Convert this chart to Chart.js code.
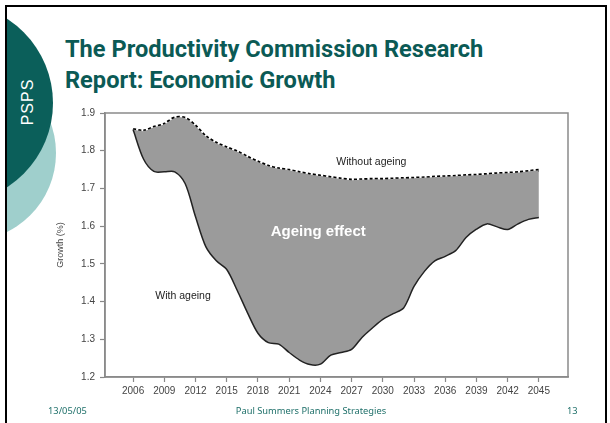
<!DOCTYPE html>
<html>
<head>
<meta charset="utf-8">
<script src="https://cdn.jsdelivr.net/npm/chart.js@4"></script>
<style>
body{margin:0;width:610px;height:423px;overflow:hidden;background:#fff;position:relative;font-family:"Liberation Sans",Arial,sans-serif}
#deco{position:absolute;left:7px;top:7px;width:120px;height:420px;overflow:hidden}
.circ{position:absolute;border-radius:50%}
#light{left:-127px;top:58px;width:176px;height:176px;background:#9fcfcc}
#dark{left:-154px;top:-4px;width:200px;height:200px;background:#0b5f5a}
#psps{position:absolute;left:28px;top:102px;transform:translate(-50%,-50%) rotate(-90deg);color:#fff;font-size:16px;letter-spacing:1px}
#frame{position:absolute;left:5px;top:5px;width:598px;height:440px;border:2.5px solid #000;border-bottom:none}
#title{position:absolute;left:65px;top:34px;color:#0b5a55;font-family:Roboto,"Liberation Sans",sans-serif;font-weight:700;font-size:23.6px;line-height:31px;white-space:nowrap}
#box{position:absolute;left:0;top:100px;width:610px;height:323px}
.foot{position:absolute;top:404px;color:#1f706a;font-family:"Noto Sans",sans-serif;font-size:9.3px}
</style>
</head>
<body>
<div id="deco">
  <div class="circ" id="light"></div>
  <div class="circ" id="dark"></div>
</div>
<div id="psps">PSPS</div>
<div id="frame"></div>
<div id="title">The Productivity Commission Research<br>Report: Economic Growth</div>
<div id="box"><canvas id="growthChart"></canvas></div>
<div class="foot" style="left:48px">13/05/05</div>
<div class="foot" style="left:0;width:622px;text-align:center">Paul Summers Planning Strategies</div>
<div class="foot" style="left:567px">13</div>
<script>
const years = [2006,2007,2008,2009,2010,2011,2012,2013,2014,2015,2016,2017,2018,2019,2020,2021,2022,2023,2024,2025,
2026,2027,2028,2029,2030,2031,2032,2033,2034,2035,2036,2037,2038,2039,2040,2041,2042,2043,2044,2045];

const withoutAgeing = [1.856,1.852,1.862,1.870,1.887,1.886,1.865,1.837,1.820,1.808,1.797,1.783,1.770,1.759,1.752,1.748,1.742,1.737,1.733,1.729,
1.725,1.722,1.723,1.724,1.724,1.725,1.726,1.727,1.728,1.730,1.731,1.732,1.734,1.735,1.737,1.739,1.740,1.742,1.745,1.748];

const withAgeing = [1.856,1.778,1.745,1.744,1.744,1.713,1.625,1.545,1.508,1.485,1.430,1.370,1.316,1.291,1.287,1.265,1.245,1.233,1.234,1.258,
1.265,1.273,1.305,1.330,1.353,1.368,1.383,1.440,1.480,1.508,1.520,1.535,1.570,1.592,1.606,1.598,1.591,1.606,1.618,1.623];

const xTicks = [2006,2009,2012,2015,2018,2021,2024,2027,2030,2033,2036,2039,2042,2045];
const yTicks = [1.2,1.3,1.4,1.5,1.6,1.7,1.8,1.9];

// labels written on the plot, placed in data units
const notes = [
  {text:"Without ageing", x:2028.9, y:1.770, font:'10.5px "Liberation Sans"', color:"#222"},
  {text:"With ageing", x:2010.8, y:1.415, font:'10.5px "Liberation Sans"', color:"#222"},
  {text:"Ageing effect", x:2023.8, y:1.585, font:'bold 15px "Liberation Sans"', color:"#fff"}
];

const framePlugin = {
  id:"frame",
  afterDraw(chart){
    const ctx = chart.ctx, a = chart.chartArea;
    const sx = chart.scales.x, sy = chart.scales.y;
    ctx.save();
    ctx.strokeStyle = "#8a8a8a";
    ctx.lineWidth = 1.5;
    ctx.strokeRect(a.left, a.top, a.right - a.left, a.bottom - a.top);
    ctx.textAlign = "center";
    ctx.textBaseline = "middle";
    notes.forEach(n => {
      ctx.font = n.font;
      ctx.fillStyle = n.color;
      ctx.fillText(n.text, sx.getPixelForValue(n.x), sy.getPixelForValue(n.y));
    });
    ctx.restore();
  }
};

new Chart(document.getElementById("growthChart"),{
  type:"line",
  data:{
    datasets:[{
      label:"With ageing",
      data:years.map((yr,i)=>({x:yr,y:withAgeing[i]})),
      borderColor:"#222",
      borderWidth:1.5,
      backgroundColor:"#9b9b9b",
      fill:"+1",
      pointRadius:0,
      tension:0.3
    },{
      label:"Without ageing",
      data:years.map((yr,i)=>({x:yr,y:withoutAgeing[i]})),
      borderColor:"#000",
      borderWidth:3.2,
      borderDash:[3,2.2],
      borderCapStyle:"butt",
      fill:false,
      pointRadius:0,
      tension:0.3
    }]
  },
  options:{
    responsive:true,
    maintainAspectRatio:false,
    animation:false,
    layout:{padding:{left:50,right:42,top:13,bottom:26}},
    plugins:{legend:{display:false},tooltip:{enabled:false}},
    scales:{
      x:{
        type:"linear",
        min:2003.3,
        max:2047.8,
        afterBuildTicks:s=>{s.ticks=xTicks.map(v=>({value:v}));},
        afterFit:s=>{s.height=20;},
        grid:{drawOnChartArea:false,tickLength:5,tickColor:"#888",tickWidth:1.2},
        border:{color:"#8a8a8a",width:1.5},
        ticks:{color:"#444",font:{family:"Liberation Sans",size:10},padding:3,maxRotation:0,autoSkip:false,callback:v=>String(v)}
      },
      y:{
        min:1.2,
        max:1.9,
        afterBuildTicks:s=>{s.ticks=yTicks.map(v=>({value:v}));},
        afterFit:s=>{s.width=55;},
        grid:{drawOnChartArea:false,tickLength:5,tickColor:"#888",tickWidth:1.2},
        border:{color:"#8a8a8a",width:1.5},
        ticks:{color:"#444",font:{family:"Liberation Sans",size:10},padding:5,callback:v=>v.toFixed(1)},
        title:{display:true,text:"Growth (%)",color:"#444",font:{family:"Liberation Sans",size:9},padding:{top:5,bottom:0}}
      }
    }
  },
  plugins:[framePlugin]
});
</script>
</body>
</html>
